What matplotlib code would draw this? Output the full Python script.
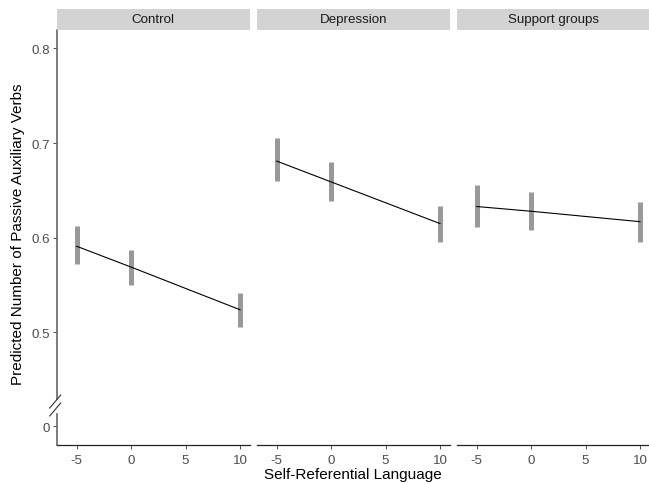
import matplotlib
matplotlib.use("Agg")
import matplotlib.pyplot as plt
from matplotlib.lines import Line2D

plt.rcParams["font.family"] = ["Liberation Sans", "DejaVu Sans"]

# ===== data =====
facets = ["Control", "Depression", "Support groups"]
self_ref = [-5, 0, 10]
predicted = {
    "Control": [0.591, 0.569, 0.524],
    "Depression": [0.681, 0.659, 0.615],
    "Support groups": [0.633, 0.628, 0.617],
}
ci_low = {
    "Control": [0.572, 0.550, 0.506],
    "Depression": [0.660, 0.639, 0.596],
    "Support groups": [0.611, 0.608, 0.596],
}
ci_high = {
    "Control": [0.612, 0.587, 0.542],
    "Depression": [0.705, 0.680, 0.634],
    "Support groups": [0.656, 0.648, 0.638],
}
x_ticks = [-5, 0, 5, 10]
y_ticks = [0.5, 0.6, 0.7, 0.8]

# axis break: the value 0 is drawn at this position below 0.5
ZERO_POS = 0.401

W, H = 649, 485
fig = plt.figure(figsize=(W / 100, H / 100), dpi=100, facecolor="white")

panel_left = [56.7, 256.7, 456.7]
panel_w = 193.3
bottom_px, top_px = 445.7, 30.5
strip_top = 10.0

TICK_COL = "#4d4d4d"

for i, name in enumerate(facets):
    l = panel_left[i] / W
    b = (H - bottom_px) / H
    h = (bottom_px - top_px) / H
    ax = fig.add_axes([l, b, panel_w / W, h])
    ax.set_facecolor("white")

    ax.vlines(self_ref, ci_low[name], ci_high[name], color="#999999", lw=3.6, zorder=2)
    ax.plot(self_ref, predicted[name], color="black", lw=0.8, zorder=3)

    ax.set_xlim(-6.84, 10.92)
    ax.set_ylim(0.3814, 0.82)
    ax.set_xticks(x_ticks)
    ax.set_xticklabels([str(t) for t in x_ticks])
    ax.tick_params(axis="x", length=3, width=0.6, color="#333333",
                   labelcolor=TICK_COL, labelsize=9.6, pad=3.5)

    for s in ["top", "right", "left"]:
        ax.spines[s].set_visible(False)
    ax.spines["bottom"].set_color("#222222")
    ax.spines["bottom"].set_linewidth(0.9)

    if i == 0:
        ax.set_yticks([ZERO_POS] + y_ticks)
        ax.set_yticklabels(["0"] + [f"{t:.1f}" for t in y_ticks])
        ax.tick_params(axis="y", length=3, width=0.6, color="#333333",
                       labelcolor=TICK_COL, labelsize=9.6, pad=2)
        # left axis line with a gap for the break
        g0 = (bottom_px - 415.0) / (bottom_px - top_px)
        g1 = (bottom_px - 400.0) / (bottom_px - top_px)
        for y0, y1 in [(0, g0), (g1, 1)]:
            ax.add_line(Line2D([0, 0], [y0, y1], transform=ax.transAxes,
                               color="#666666", lw=1.2, clip_on=False))
        # break marks "//"
        for yc in [402.0, 410.0]:
            xa = (56.7 - 7) / W
            xb = (56.7 + 4) / W
            ya = (H - (yc + 7)) / H
            yb = (H - (yc - 6)) / H
            fig.add_artist(Line2D([xa, xb], [ya, yb], transform=fig.transFigure,
                                  color="#333333", lw=0.8))
    else:
        ax.set_yticks([])

    # facet strip
    sax = fig.add_axes([l, (H - top_px) / H, panel_w / W, (top_px - strip_top) / H])
    sax.set_facecolor("#d3d3d3")
    sax.set_xticks([])
    sax.set_yticks([])
    for s in sax.spines.values():
        s.set_visible(False)
    sax.text(0.5, 0.5, name, ha="center", va="center", fontsize=9.6,
             color="#1a1a1a", transform=sax.transAxes)

fig.text((56.7 + 649) / 2 / W, 1 - 479 / H, "Self-Referential Language",
         ha="center", va="baseline", fontsize=11, color="black")
fig.text(18 / W, 1 - 234 / H,
         "Predicted Number of Passive Auxiliary Verbs",
         ha="center", va="center", rotation=90, fontsize=11, color="black")

fig.savefig("out.png", dpi=100, facecolor="white")
